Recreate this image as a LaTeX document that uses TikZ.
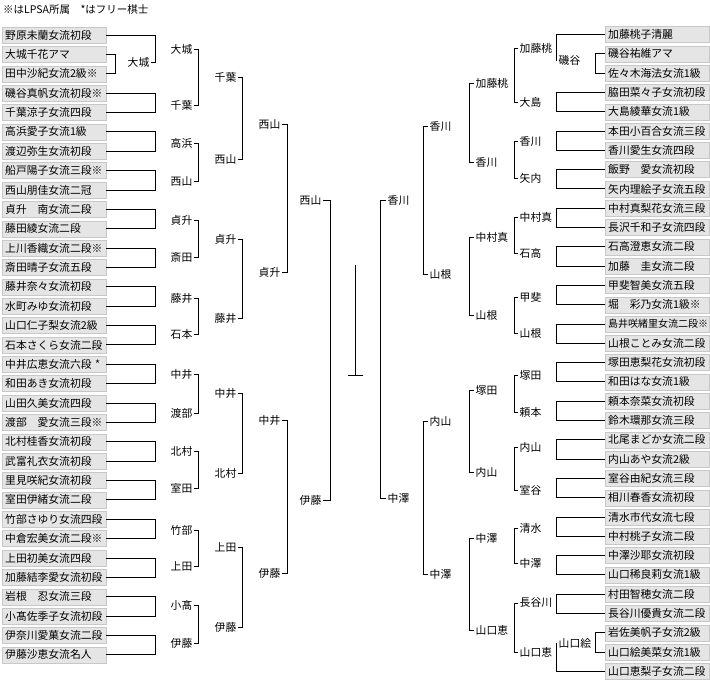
\documentclass[tikz,border=0pt]{standalone}
\usepackage{fontspec}
\setmainfont{Noto Sans CJK JP}
\definecolor{boxgray}{RGB}{229,229,229}
\definecolor{boxedge}{RGB}{200,200,200}
\usetikzlibrary{calc}

\begin{document}
\begin{tikzpicture}[x=1pt, y=-1pt,
      pbox/.style={draw=boxedge, fill=boxgray, minimum height=16pt, inner ysep=0pt, inner xsep=3pt,
        text width=98pt, align=left, font=\fontsize{10.8}{11}\selectfont},
      wl/.style={inner sep=1.5pt, font=\fontsize{10.8}{11}\selectfont},
      ln/.style={line width=0.9pt}
    ]
      \useasboundingbox (0,0) rectangle (710,680);
      \node[anchor=west, inner sep=0pt, font=\fontsize{10.5}{11}\selectfont] (note) at (3,10) {※はLPSA所属　*はフリー棋士};
      \foreach \nm [count=\i] in {%
        野原未蘭女流初段,大城千花アマ,田中沙紀女流2級※,磯谷真帆女流初段※,%
        千葉涼子女流四段,高浜愛子女流1級,渡辺弥生女流初段,船戸陽子女流三段※,%
        西山朋佳女流二冠,貞升　南女流二段,藤田綾女流二段,上川香織女流二段※,%
        斎田晴子女流五段,藤井奈々女流初段,水町みゆ女流初段,山口仁子梨女流2級,%
        石本さくら女流二段,中井広恵女流六段 *,和田あき女流初段,山田久美女流四段,%
        渡部　愛女流三段※,北村桂香女流初段,武富礼衣女流初段,里見咲紀女流初段,%
        室田伊緒女流二段,竹部さゆり女流四段,中倉宏美女流二段※,上田初美女流四段,%
        加藤結李愛女流初段,岩根　忍女流三段,小髙佐季子女流初段,伊奈川愛菓女流二段,%
        伊藤沙恵女流名人}
        \node[pbox, anchor=west] (L\i) at (2,{35+(\i-1)*19.37}) {\nm};
      \foreach \nm [count=\i] in {%
        加藤桃子清麗,磯谷祐維アマ,佐々木海法女流1級,脇田菜々子女流初段,%
        大島綾華女流1級,本田小百合女流三段,香川愛生女流四段,飯野　愛女流初段,%
        矢内理絵子女流五段,中村真梨花女流三段,長沢千和子女流四段,石高澄恵女流二段,%
        加藤　圭女流二段,甲斐智美女流五段,堀　彩乃女流1級※,{\fontsize{10}{11}\selectfont 島井咲緒里女流二段※},%
        山根ことみ女流二段,塚田恵梨花女流初段,和田はな女流1級,頼本奈菜女流初段,%
        鈴木環那女流三段,北尾まどか女流二段,内山あや女流2級,室谷由紀女流三段,%
        相川春香女流初段,清水市代女流七段,中村桃子女流二段,中澤沙耶女流初段,%
        山口稀良莉女流1級,村田智穂女流二段,長谷川優貴女流二段,岩佐美帆子女流2級,%
        山口絵美菜女流1級,山口恵梨子女流二段}
        \node[pbox, anchor=west] (R\i) at (605,{34.5+(\i-1)*19.3}) {\nm};

      \node[wl, anchor=east] (p1) at (151,62) {大城};
      \node[wl, anchor=west] (q1) at (557,60) {磯谷};
      \node[wl, anchor=west] (q2) at (557,643) {山口絵};
      \draw[ln] (L2.east) -- ++(9,0) |- (L3.east);
      \draw[ln] (L1.east) -- ++(49,0) |- (p1.east);
      \draw[ln] (R2.west) -- ++(-10,0) |- (R3.west);
      \draw[ln] (R32.west) -- ++(-10,0) |- (R33.west);
      \draw[ln] (R1.west) -- ++(-49,0) |- (q1.west);
      \draw[ln] (R34.west) -- ++(-49,0) |- (q2.west);
      \foreach \i [evaluate=\i as \j using int(\i+1)] in {4,6,...,32}
        \draw[ln] (L\i.east) -- ++(49,0) |- (L\j.east);
      \foreach \i [evaluate=\i as \j using int(\i+1)] in {4,6,...,30}
        \draw[ln] (R\i.west) -- ++(-49,0) |- (R\j.west);

      \foreach \nm/\yy [count=\k] in {大城/49,千葉/105,高浜/143,西山/181,貞升/220,斎田/257,藤井/298,石本/334,%
          中井/374,渡部/413,北村/451,室田/488,竹部/530,上田/566,小髙/605,伊藤/643}
        \node[wl, anchor=east] (a\k) at (194,\yy) {\nm};
      \foreach \nm/\yy [count=\k] in {千葉/77,西山/159,貞升/239,藤井/318,中井/393,北村/473,上田/547,伊藤/627}
        \node[wl, anchor=east] (b\k) at (238,\yy) {\nm};
      \foreach \nm/\yy [count=\k] in {西山/124,貞升/272,中井/420,伊藤/573}
        \node[wl, anchor=east] (c\k) at (282,\yy) {\nm};
      \node[wl, anchor=east] (d1) at (323,200) {西山};
      \node[wl, anchor=east] (d2) at (323,500) {伊藤};

      \foreach \nm/\yy [count=\k] in {加藤桃/48,大島/102,香川/141,矢内/178,中村真/217,石高/253,甲斐/297,山根/333,%
          塚田/375,頼本/412,内山/447,室谷/490,清水/528,中澤/563,長谷川/603,山口恵/652}
        \node[wl, anchor=west] (h\k) at (518,\yy) {\nm};
      \foreach \nm/\yy [count=\k] in {加藤桃/83,香川/162,中村真/237,山根/315,塚田/390,内山/472,中澤/538,山口恵/630}
        \node[wl, anchor=west] (g\k) at (474,\yy) {\nm};
      \foreach \nm/\yy [count=\k] in {香川/126,山根/274,内山/421,中澤/574}
        \node[wl, anchor=west] (f\k) at (428,\yy) {\nm};
      \node[wl, anchor=west] (e1) at (386,200) {香川};
      \node[wl, anchor=west] (e2) at (386,498) {中澤};

      \foreach \k [evaluate=\k as \j using int(\k+1)] in {1,3,...,15} {
        \draw[ln] (a\k.east) -- ++(4,0) |- (a\j.east);
        \draw[ln] (h\k.west) -- ++(-4,0) |- (h\j.west);
      }
      \foreach \k [evaluate=\k as \j using int(\k+1)] in {1,3,5,7} {
        \draw[ln] (b\k.east) -- ++(4,0) |- (b\j.east);
        \draw[ln] (g\k.west) -- ++(-5,0) |- (g\j.west);
      }
      \foreach \k [evaluate=\k as \j using int(\k+1)] in {1,3} {
        \draw[ln] (c\k.east) -- ++(5,0) |- (c\j.east);
        \draw[ln] (f\k.west) -- ++(-5,0) |- (f\j.west);
      }
      \draw[ln] (d1.east) -- ++(7,0) |- (d2.east);
      \draw[ln] (e1.west) -- ++(-6,0) |- (e2.west);

      \coordinate (champ) at (355,265);
      \coordinate (stand) at (355,375);
      \draw[ln] (champ) -- (stand) ++(-7.5,0) -- ++(15,0);
    \end{tikzpicture}
\end{document}
